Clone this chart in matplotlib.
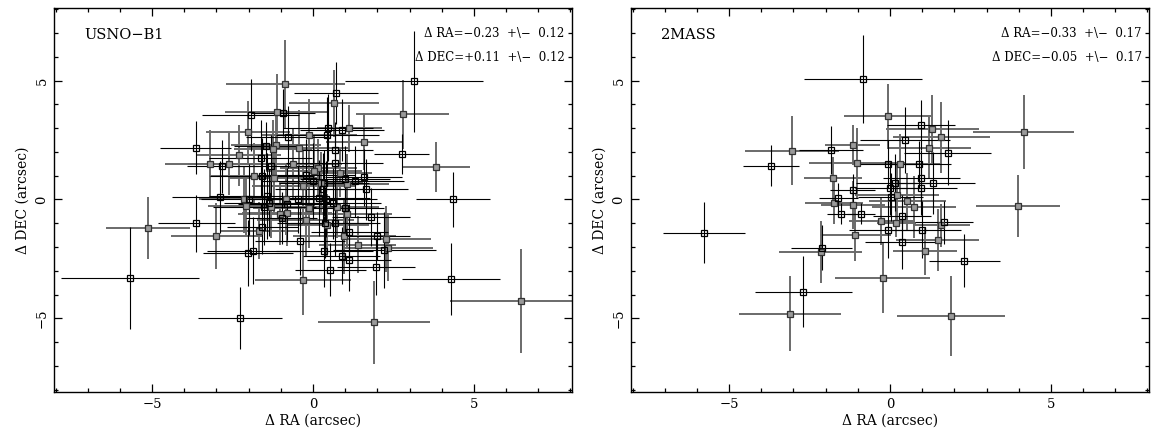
import numpy as np
import matplotlib
matplotlib.use('Agg')
import matplotlib.pyplot as plt
from matplotlib import ticker

# USNO-B1 offsets (arcsec), error (same in RA and DEC), colour flag (1 = grey)
ra_usno = [3.13, -0.86, 0.71, 0.66, 2.79, -1.13, -0.93, -1.94, 0.48, 1.13,
           0.90, -2.03, -0.12, 0.44, -0.79, 1.59, -3.65, -1.15, -1.45, -0.44,
           -1.24, 0.67, 2.76, -2.30, -1.62, -3.20, -2.60, -2.82, 0.67, -0.61,
           3.82, -1.30, 0.17, 0.03, 0.83, -1.84, -1.60, -0.21, -1.22, 1.58,
           1.32, 1.00, 0.00, 0.25, 0.35, 1.06, -0.30, 1.64, 0.31, -2.88,
           -1.42, -0.47, 0.18, 0.39, 4.34, -2.14, -1.99, -1.38, -0.84, -2.07,
           -1.52, -1.32, -0.82, -0.12, 0.62, 0.75, 1.00, 1.06, -1.04, -0.97,
           -0.81, 1.80, -3.63, -0.23, 0.37, 0.43, 0.67, -5.12, -1.57, -1.67,
           -3.00, 0.97, 1.13, 2.00, 2.26, -0.41, 1.39, 2.21, 2.34, 0.35,
           -2.03, -1.88, 0.89, 1.11, 1.96, 0.54, -5.69, -0.31, 4.29, -2.26,
           1.90, 6.45]
dec_usno = [4.96, 4.86, 4.48, 4.04, 3.58, 3.68, 3.65, 3.55, 3.02, 2.99,
            2.91, 2.84, 2.72, 2.71, 2.63, 2.42, 2.18, 2.29, 2.25, 2.18,
            2.13, 2.06, 1.91, 1.85, 1.73, 1.50, 1.50, 1.39, 1.54, 1.49,
            1.36, 1.40, 1.33, 1.21, 1.12, 0.98, 0.97, 1.03, 0.88, 0.93,
            0.76, 0.84, 0.77, 0.70, 0.69, 0.63, 0.55, 0.42, 0.45, 0.10,
            0.14, 0.00, 0.06, 0.01, 0.00, 0.00, 0.00, -0.14, 0.00, -0.28,
            -0.32, -0.31, -0.20, -0.35, -0.17, -0.31, -0.35, -0.60, -0.63, -0.77,
            -0.57, -0.74, -1.00, -0.87, -0.98, -1.06, -0.98, -1.21, -1.18, -1.32,
            -1.54, -1.54, -1.38, -1.54, -1.66, -1.76, -1.90, -2.11, -2.04, -2.18,
            -2.25, -2.15, -2.36, -2.56, -2.84, -2.95, -3.31, -3.37, -3.34, -4.99,
            -5.17, -4.28]
err_usno = [2.14, 1.85, 1.3, 1.4, 1.45, 1.6, 1.0, 1.5, 1.4, 1.0,
            1.3, 1.3, 1.5, 1.6, 1.3, 1.2, 1.1, 1.4, 1.0, 1.6,
            1.2, 1.2, 0.85, 1.3, 1.6, 1.4, 1.3, 1.1, 1.5, 1.5,
            1.06, 1.3, 1.2, 1.5, 1.0, 1.4, 1.6, 1.5, 1.4, 1.2,
            1.5, 1.4, 1.6, 1.3, 1.4, 1.3, 1.6, 1.3, 1.5, 1.5,
            1.8, 1.4, 1.6, 1.6, 1.15, 1.4, 1.5, 1.4, 1.5, 1.2,
            1.6, 1.3, 1.5, 1.7, 1.5, 1.3, 1.2, 1.4, 1.3, 1.1,
            1.4, 1.2, 1.2, 1.5, 1.5, 1.3, 1.4, 1.3, 1.1, 1.2,
            1.4, 1.6, 1.2, 1.0, 1.4, 1.4, 1.2, 1.6, 1.4, 1.5,
            1.4, 1.4, 1.2, 1.3, 1.2, 1.1, 2.15, 1.5, 1.51, 1.3,
            1.75, 2.2]
grey_usno = [0, 1, 0, 1, 1, 1, 0, 0, 0, 1,
             0, 1, 1, 0, 0, 1, 0, 1, 0, 1,
             1, 0, 0, 1, 0, 1, 1, 0, 0, 1,
             1, 0, 1, 1, 1, 1, 0, 0, 1, 0,
             0, 0, 0, 1, 0, 1, 1, 0, 0, 0,
             0, 0, 0, 0, 0, 1, 0, 0, 1, 1,
             0, 1, 0, 1, 0, 1, 0, 1, 1, 0,
             1, 0, 0, 1, 0, 1, 0, 1, 0, 1,
             1, 1, 0, 0, 1, 0, 1, 0, 1, 0,
             0, 0, 0, 0, 0, 0, 0, 1, 0, 0,
             1, 1]

# 2MASS
ra_2mass = [-0.84, -0.07, 0.96, 1.32, 4.15, 1.60, 0.46, -1.16, 1.21, -3.05,
            -1.84, 1.80, -3.69, -1.02, -0.07, 0.31, 0.90, -1.78, 0.97, 1.33,
            0.14, -1.16, 0.97, 0.00, -1.61, 0.02, 0.21, 0.54, -1.74, -1.16,
            3.97, 0.75, -1.51, -0.90, 0.38, -0.28, 0.20, 1.68, 1.60, -5.78,
            -0.06, 1.01, -1.08, 1.48, 0.38, -2.12, -2.16, 1.09, 2.31, -0.23,
            -2.69, -3.10, 1.89]
dec_2mass = [5.06, 3.49, 3.13, 2.95, 2.82, 2.61, 2.50, 2.29, 2.18, 2.05,
             2.07, 1.97, 1.42, 1.52, 1.49, 1.47, 1.47, 0.89, 0.89, 0.70,
             0.70, 0.38, 0.46, 0.46, 0.07, 0.11, 0.18, -0.07, -0.15, -0.24,
             -0.28, -0.32, -0.60, -0.60, -0.71, -0.91, -0.99, -0.96, -1.09, -1.40,
             -1.28, -1.28, -1.51, -1.70, -1.79, -2.04, -2.21, -2.19, -2.57, -3.32,
             -3.88, -4.80, -4.89]
err_2mass = [1.84, 1.35, 1.05, 1.45, 1.56, 1.5, 1.4, 0.85, 1.3, 1.45,
             1.0, 1.35, 0.87, 1.5, 1.0, 1.3, 1.0, 0.9, 1.2, 1.3,
             1.2, 0.7, 1.1, 1.1, 0.6, 1.0, 1.3, 1.2, 0.9, 1.0,
             1.31, 1.3, 0.45, 0.43, 0.9, 1.0, 0.6, 0.9, 0.9, 1.27,
             1.2, 1.2, 1.1, 1.3, 1.15, 0.95, 1.3, 1.0, 1.1, 1.47,
             1.5, 1.58, 1.68]
grey_2mass = [0, 1, 0, 1, 1, 1, 0, 1, 1, 1,
              0, 0, 0, 1, 0, 1, 0, 1, 0, 0,
              0, 0, 0, 0, 0, 0, 1, 1, 1, 1,
              1, 1, 0, 0, 0, 1, 1, 0, 1, 0,
              0, 0, 1, 1, 0, 0, 1, 1, 0, 1,
              0, 1, 1]

panels = [
    ('USNO\u2212B1', ra_usno, dec_usno, err_usno, grey_usno,
     ['\u0394 RA=\u22120.23  +\\\u2212  0.12', '\u0394 DEC=+0.11  +\\\u2212  0.12']),
    ('2MASS', ra_2mass, dec_2mass, err_2mass, grey_2mass,
     ['\u0394 RA=\u22120.33  +\\\u2212  0.17', '\u0394 DEC=\u22120.05  +\\\u2212  0.17']),
]

plt.rcParams['font.family'] = ['DejaVu Serif']
fig = plt.figure(figsize=(11.54, 4.32), dpi=100)
lefts = [54 / 1154, 631 / 1154]

for (name, ra, dec, err, grey, stats), left in zip(panels, lefts):
    ax = fig.add_axes([left, 1 - 392 / 432, 518 / 1154, 384 / 432])
    ra = np.array(ra); dec = np.array(dec); err = np.array(err); grey = np.array(grey)
    # grey group first, black on top
    for flag, c, fc, lw in [(1, '#6a6a6a', '#9a9a9a', 1.4), (0, 'black', 'none', 0.8)]:
        m = grey == flag
        ax.errorbar(ra[m], dec[m], xerr=err[m], yerr=err[m], fmt='s', ms=4.2,
                    mfc=fc, mec='#333333' if flag else c, mew=0.9,
                    ecolor=c, elinewidth=lw, capsize=0)
    ax.set_xlim(-8.05, 8.05)
    ax.set_ylim(-8.1, 8.05)
    for a in (ax.xaxis, ax.yaxis):
        a.set_major_locator(ticker.MultipleLocator(5))
        a.set_minor_locator(ticker.MultipleLocator(1))
    ax.tick_params(which='both', direction='in', top=True, right=True, width=0.9,
                   labelsize=9.5, pad=4)
    ax.tick_params(which='major', length=5.5)
    ax.tick_params(which='minor', length=3)
    ax.tick_params(axis='y', labelrotation=90)
    for lab in ax.get_yticklabels():
        lab.set_va('center')
    for s in ax.spines.values():
        s.set_linewidth(1.0)
    ax.set_xlabel('\u0394 RA (arcsec)', fontsize=10, labelpad=2)
    ax.set_ylabel('\u0394 DEC (arcsec)', fontsize=10, labelpad=4)
    ax.text(0.058, 0.93, name, transform=ax.transAxes, fontsize=10.5, va='center')
    ax.text(0.986, 0.934, stats[0], transform=ax.transAxes, fontsize=8.5,
            ha='right', va='center')
    ax.text(0.986, 0.872, stats[1], transform=ax.transAxes, fontsize=8.5,
            ha='right', va='center')

fig.savefig('out.png', dpi=100)
